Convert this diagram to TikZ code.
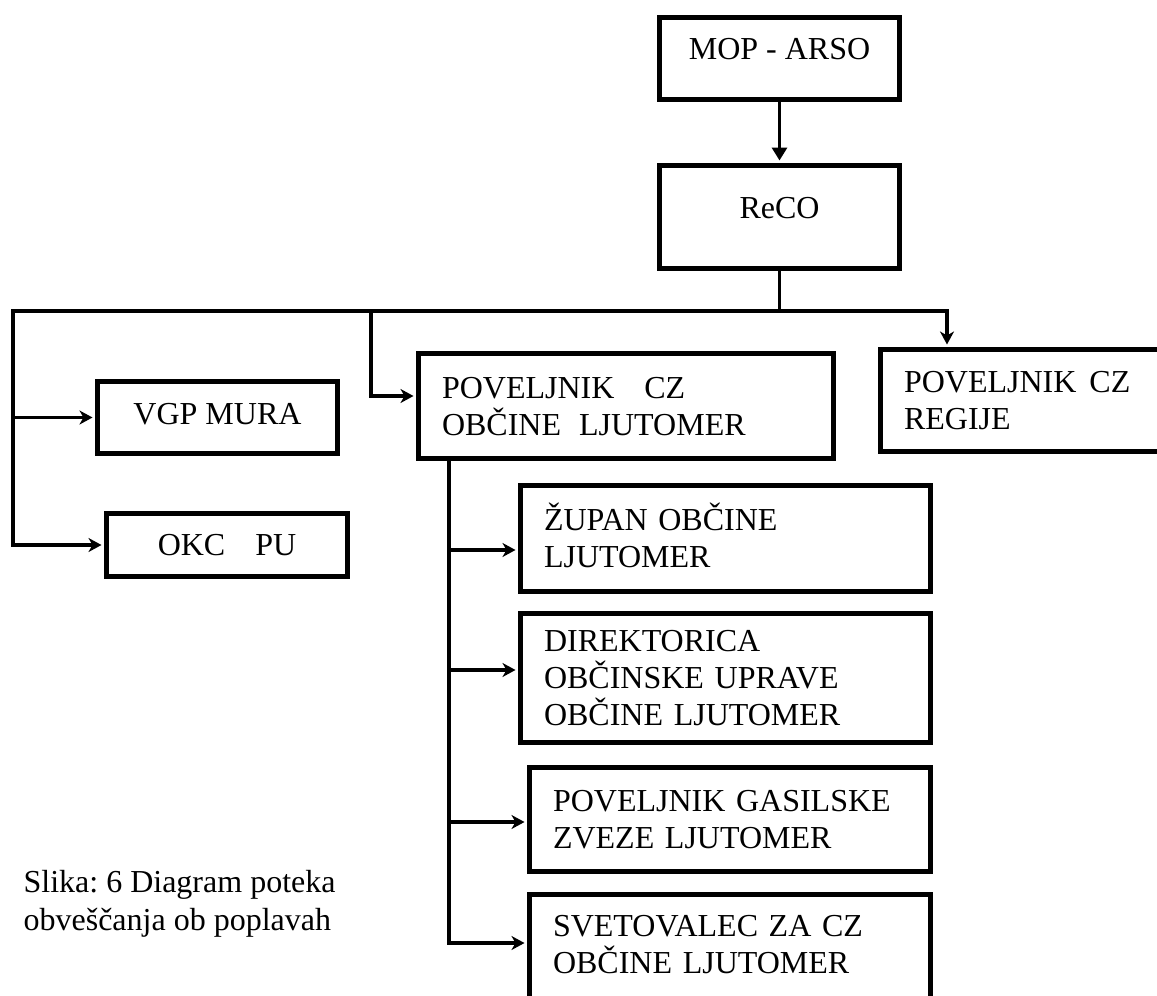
\documentclass[tikz,border=0pt]{standalone}
\usepackage{fontspec}
\setmainfont{Liberation Serif}
\usetikzlibrary{arrows.meta, positioning}
\frenchspacing

\tikzset{
  box/.style={draw, rectangle, line width=2.5pt, inner sep=0pt, font=\fontsize{16}{18.5}\selectfont},
  lbox/.style={box, align=left, inner xsep=11.75pt, text height=11pt},
  upper/.style={text depth=#1},
  arr/.style={-{Stealth[length=6.5pt,width=7pt,inset=2pt]}},
  arrs/.style={{Stealth[length=6.5pt,width=7pt,inset=2pt]}-{Stealth[length=6.5pt,width=7pt,inset=2pt]}, shorten <=1.25pt},
  tri/.style={-{Triangle[length=6.5pt,width=7.5pt]}}
}

\begin{document}
\begin{tikzpicture}[x=0.5pt, y=-0.5pt, line width=1.6pt, shorten >=1.25pt]
    \useasboundingbox (0,0) rectangle (1157,996);
    \clip (0,0) rectangle (1157,996);

    \node[box, minimum width=120pt, minimum height=41pt, upper=9.3pt] (mop) at (779.5,58.5) {MOP - ARSO};
    \node[box, minimum width=120pt, minimum height=51.5pt, upper=8.8pt] (reco) at (779.5,217) {ReCO};
    \node[box, minimum width=120pt, minimum height=36pt, upper=4pt] (vgp) at (217.5,417.5) {VGP MURA};
    \node[box, minimum width=120.5pt, minimum height=31.5pt] (okc) at (227,545) {OKC\hspace{15pt}PU};
    \node[lbox, text width=184pt, minimum height=52.5pt] (obcina) at (626,406) {POVELJNIK\hspace{15pt}CZ\\OBČINE\hspace{9pt}LJUTOMER};
    \node[lbox, text width=130pt, minimum height=51pt] (regija) at (1034,400.5) {POVELJNIK\hspace{6.5pt}CZ\\REGIJE};
    \node[lbox, text width=181.5pt, minimum height=53pt] (zupan) at (725.5,538.5) {ŽUPAN OBČINE\\LJUTOMER};
    \node[lbox, text width=181.5pt, minimum height=64.5pt] (direktor) at (725.5,678) {DIREKTORICA\\OBČINSKE UPRAVE\\OBČINE LJUTOMER};
    \node[lbox, text width=177pt, minimum height=52pt] (gasilci) at (730,819.5) {POVELJNIK GASILSKE\\ZVEZE LJUTOMER};
    \node[lbox, text width=177pt, minimum height=54.5pt, text depth=24pt] (svet) at (730,949) {SVETOVALEC ZA CZ\\OBČINE LJUTOMER};

    \node[anchor=north west, inner sep=0pt, align=left, font=\fontsize{16}{19}\selectfont] (slika) at (22,869) {Slika: 6 Diagram poteka\\obveščanja ob poplavah};

    \coordinate (busL) at (13,311);
    \coordinate (busR) at (947,311);
    \coordinate (obcL) at (371,311);
    \coordinate (trunk) at (449,461);

    \draw[tri] (mop) -- (reco);
    \draw (reco) -- (reco |- busL);
    \draw[arrs] (okc) -| (busL) -- (busR) -- (busR |- regija.north);
    \draw[arr] (busL) |- (vgp);
    \draw[arr] (obcL) |- ([yshift=5pt]obcina.west);
    \foreach \n/\dy in {zupan/-5.75pt, direktor/4pt, gasilci/-1.25pt, svet/3pt}
        \draw[arr] (trunk) |- ([yshift=\dy]\n.west);
\end{tikzpicture}
\end{document}
